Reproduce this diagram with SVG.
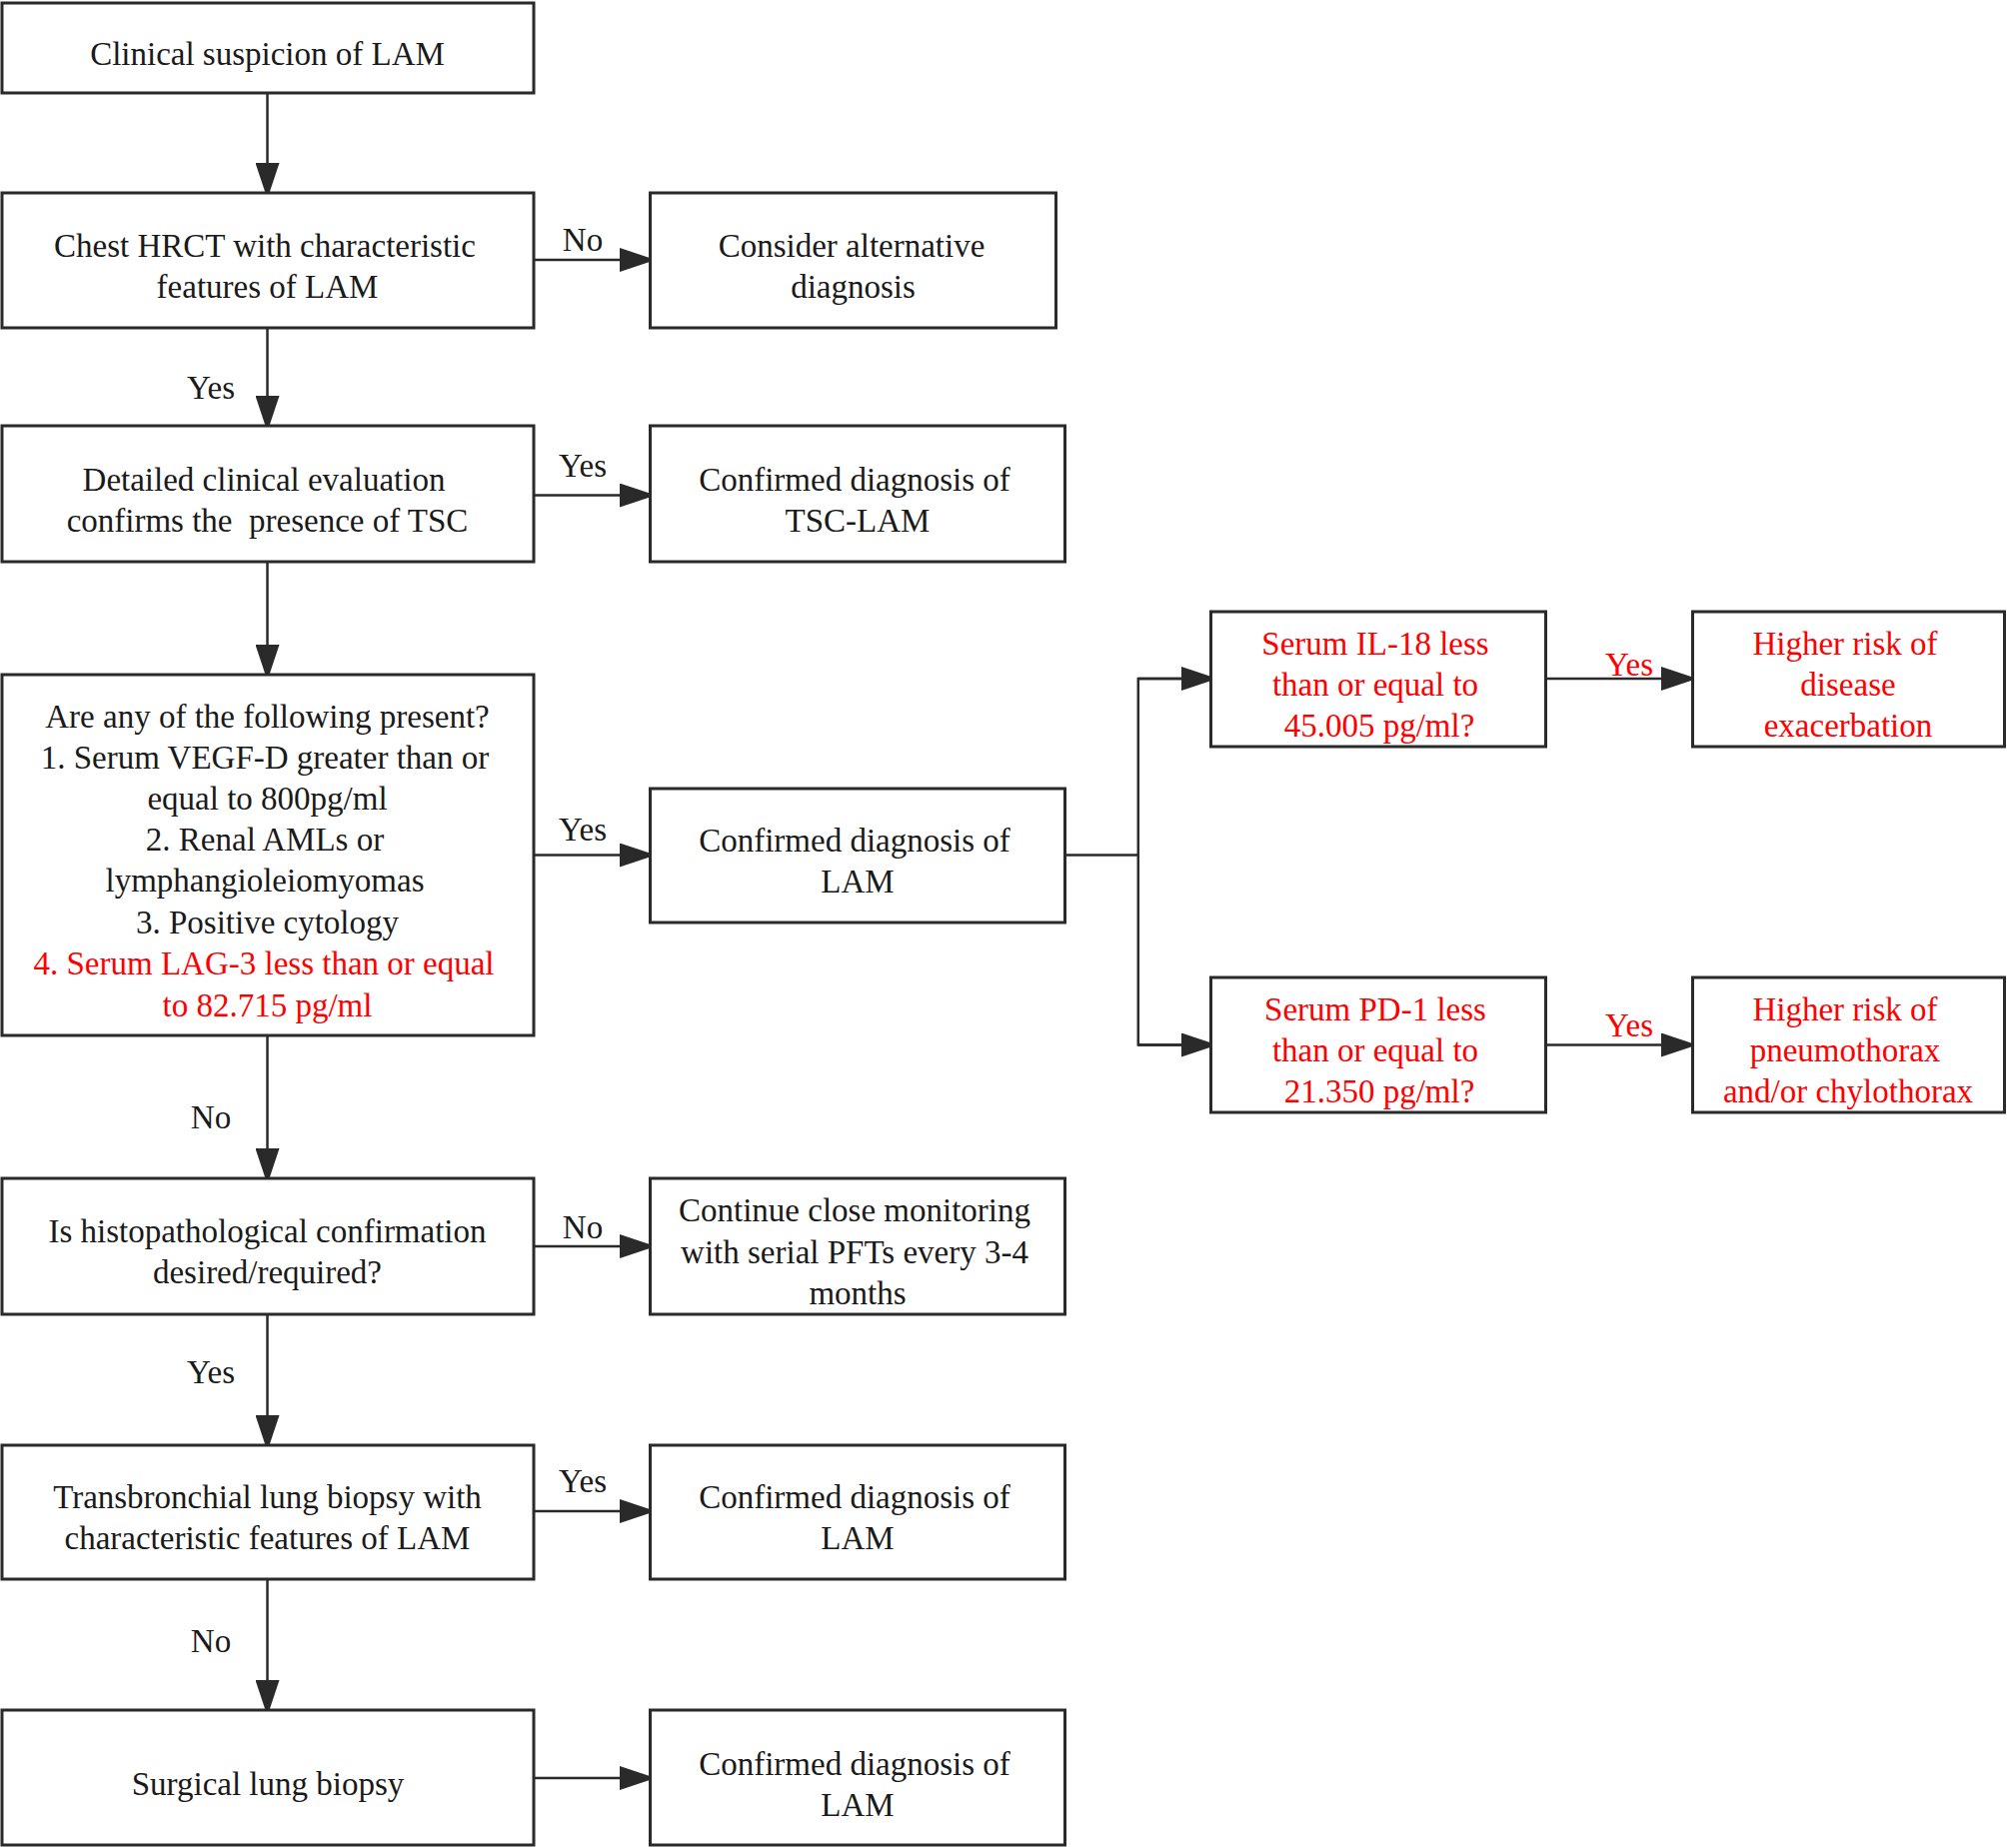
<svg xmlns="http://www.w3.org/2000/svg" width="2008" height="1849" viewBox="0 0 2008 1849">
<defs>
<style>
.box{fill:#fff;stroke:#2a2a2a;stroke-width:3}
.t{font-family:"Liberation Serif","Times New Roman",serif;font-size:33px;fill:#1a1a1a;text-anchor:middle}
.r{fill:#ff0000}
.ln{stroke:#2a2a2a;stroke-width:2.5;fill:none}
</style>
<marker id="ah" markerUnits="userSpaceOnUse" markerWidth="36" markerHeight="24" refX="36" refY="12" orient="auto">
<path d="M0,0 L36,12 L0,24 z" fill="#2a2a2a"/>
</marker>
</defs>
<rect width="2008" height="1849" fill="#fff"/>
<g id="connectors">
<line class="ln" x1="267.5" y1="93" x2="267.5" y2="199" marker-end="url(#ah)"/>
<line class="ln" x1="534" y1="260" x2="656" y2="260" marker-end="url(#ah)"/>
<line class="ln" x1="267.5" y1="328" x2="267.5" y2="432" marker-end="url(#ah)"/>
<line class="ln" x1="534" y1="495.5" x2="656" y2="495.5" marker-end="url(#ah)"/>
<line class="ln" x1="267.5" y1="562" x2="267.5" y2="681" marker-end="url(#ah)"/>
<line class="ln" x1="534" y1="855.5" x2="656" y2="855.5" marker-end="url(#ah)"/>
<polyline class="ln" points="1065.5,855.5 1138.8,855.5"/>
<polyline class="ln" points="1218,679 1138.8,679 1138.8,1045.5 1218,1045.5"/>
<line class="ln" x1="1138.8" y1="679" x2="1218" y2="679" marker-end="url(#ah)"/>
<line class="ln" x1="1138.8" y1="1045.5" x2="1218" y2="1045.5" marker-end="url(#ah)"/>
<line class="ln" x1="1546.5" y1="679" x2="1698" y2="679" marker-end="url(#ah)"/>
<line class="ln" x1="1546.5" y1="1045.5" x2="1698" y2="1045.5" marker-end="url(#ah)"/>
<line class="ln" x1="267.5" y1="1036" x2="267.5" y2="1185" marker-end="url(#ah)"/>
<line class="ln" x1="534" y1="1247" x2="656" y2="1247" marker-end="url(#ah)"/>
<line class="ln" x1="267.5" y1="1315" x2="267.5" y2="1452" marker-end="url(#ah)"/>
<line class="ln" x1="534" y1="1512" x2="656" y2="1512" marker-end="url(#ah)"/>
<line class="ln" x1="267.5" y1="1580" x2="267.5" y2="1717" marker-end="url(#ah)"/>
<line class="ln" x1="534" y1="1779" x2="656" y2="1779" marker-end="url(#ah)"/>
<text class="t" x="583" y="251">No</text>
<text class="t" x="211" y="399">Yes</text>
<text class="t" x="583" y="477">Yes</text>
<text class="t" x="583" y="841">Yes</text>
<text class="t" x="211" y="1129">No</text>
<text class="t" x="583" y="1239">No</text>
<text class="t" x="211" y="1384">Yes</text>
<text class="t" x="583" y="1493">Yes</text>
<text class="t" x="211" y="1653">No</text>
<text class="t r" x="1630" y="676">Yes</text>
<text class="t r" x="1630" y="1037">Yes</text>
</g>
<g id="n1">
<rect class="box" x="2" y="3" width="532" height="90"/>
<text class="t" x="267.5" y="65">Clinical suspicion of LAM</text>
</g>
<g id="n2">
<rect class="box" x="2" y="193" width="532" height="135"/>
<text class="t" x="265" y="257">Chest HRCT with characteristic</text>
<text class="t" x="267.5" y="298">features of LAM</text>
</g>
<g id="n3">
<rect class="box" x="650.5" y="193" width="406" height="135"/>
<text class="t" x="852" y="257">Consider alternative</text>
<text class="t" x="853.5" y="298">diagnosis</text>
</g>
<g id="n4">
<rect class="box" x="2" y="426" width="532" height="136"/>
<text class="t" x="264" y="491">Detailed clinical evaluation</text>
<text class="t" x="267.5" y="532" xml:space="preserve">confirms the  presence of TSC</text>
</g>
<g id="n5">
<rect class="box" x="650.5" y="426" width="415" height="136"/>
<text class="t" x="855" y="491">Confirmed diagnosis of</text>
<text class="t" x="858" y="532">TSC-LAM</text>
</g>
<g id="n6">
<rect class="box" x="2" y="675" width="532" height="361"/>
<text class="t" x="267.5" y="728">Are any of the following present?</text>
<text class="t" x="265" y="769">1. Serum VEGF-D greater than or</text>
<text class="t" x="267.5" y="810">equal to 800pg/ml</text>
<text class="t" x="265" y="851">2. Renal AMLs or</text>
<text class="t" x="265" y="892">lymphangioleiomyomas</text>
<text class="t" x="267.5" y="934">3. Positive cytology</text>
<text class="t r" x="264" y="975">4. Serum LAG-3 less than or equal</text>
<text class="t r" x="267.5" y="1017">to 82.715 pg/ml</text>
</g>
<g id="n7">
<rect class="box" x="650.5" y="789" width="415" height="134"/>
<text class="t" x="855" y="852">Confirmed diagnosis of</text>
<text class="t" x="858" y="893">LAM</text>
</g>
<g id="n8">
<rect class="box" x="1211.5" y="612" width="335" height="135"/>
<text class="t r" x="1376" y="655">Serum IL-18 less</text>
<text class="t r" x="1376" y="696">than or equal to</text>
<text class="t r" x="1380" y="737">45.005 pg/ml?</text>
</g>
<g id="n9">
<rect class="box" x="1693.5" y="612" width="312" height="135"/>
<text class="t r" x="1846" y="655">Higher risk of</text>
<text class="t r" x="1849" y="696">disease</text>
<text class="t r" x="1849" y="737">exacerbation</text>
</g>
<g id="n10">
<rect class="box" x="1211.5" y="978" width="335" height="135"/>
<text class="t r" x="1376" y="1021">Serum PD-1 less</text>
<text class="t r" x="1376" y="1062">than or equal to</text>
<text class="t r" x="1380" y="1103">21.350 pg/ml?</text>
</g>
<g id="n11">
<rect class="box" x="1693.5" y="978" width="312" height="135"/>
<text class="t r" x="1846" y="1021">Higher risk of</text>
<text class="t r" x="1846" y="1062">pneumothorax</text>
<text class="t r" x="1849" y="1103">and/or chylothorax</text>
</g>
<g id="n12">
<rect class="box" x="2" y="1179" width="532" height="136"/>
<text class="t" x="267.5" y="1243">Is histopathological confirmation</text>
<text class="t" x="267.5" y="1284">desired/required?</text>
</g>
<g id="n13">
<rect class="box" x="650.5" y="1179" width="415" height="136"/>
<text class="t" x="855" y="1222">Continue close monitoring</text>
<text class="t" x="855" y="1264">with serial PFTs every 3-4</text>
<text class="t" x="858" y="1305">months</text>
</g>
<g id="n14">
<rect class="box" x="2" y="1446" width="532" height="134"/>
<text class="t" x="267.5" y="1509">Transbronchial lung biopsy with</text>
<text class="t" x="267.5" y="1550">characteristic features of LAM</text>
</g>
<g id="n15">
<rect class="box" x="650.5" y="1446" width="415" height="134"/>
<text class="t" x="855" y="1509">Confirmed diagnosis of</text>
<text class="t" x="858" y="1550">LAM</text>
</g>
<g id="n16">
<rect class="box" x="2" y="1711" width="532" height="135"/>
<text class="t" x="268" y="1796">Surgical lung biopsy</text>
</g>
<g id="n17">
<rect class="box" x="650.5" y="1711" width="415" height="135"/>
<text class="t" x="855" y="1776">Confirmed diagnosis of</text>
<text class="t" x="858" y="1817">LAM</text>
</g>
</svg>
